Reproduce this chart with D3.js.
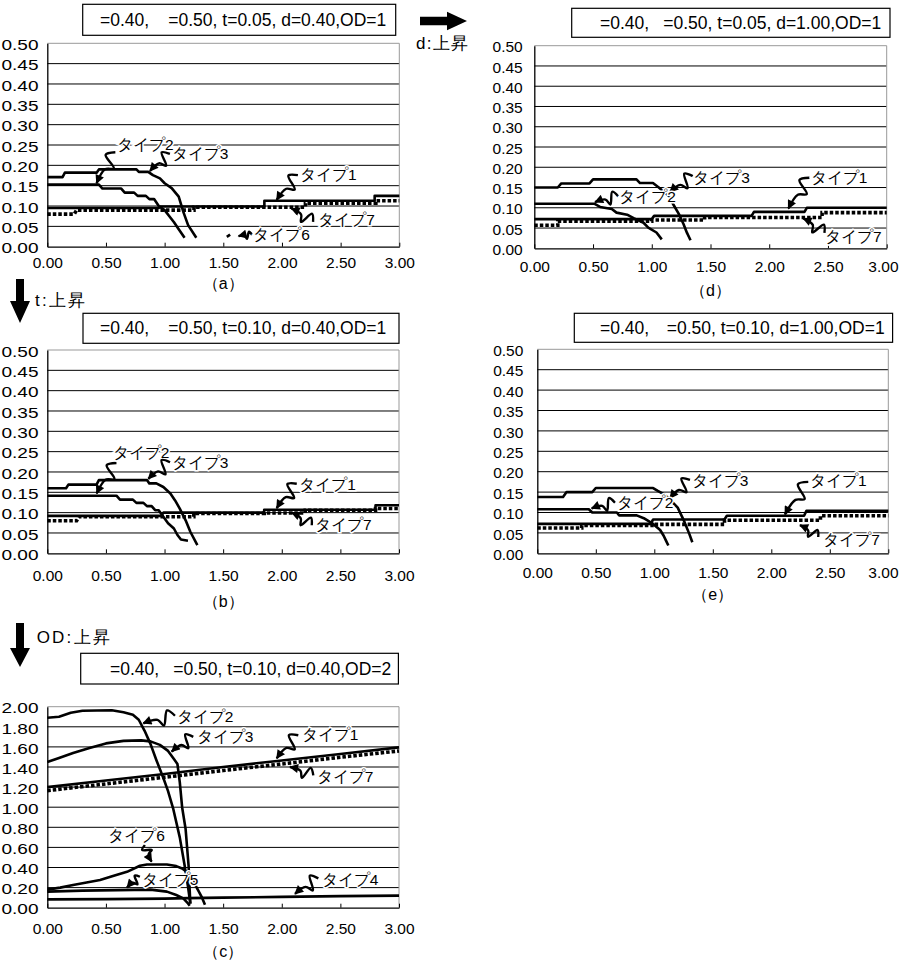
<!DOCTYPE html>
<html>
<head>
<meta charset="utf-8">
<script src="https://cdn.jsdelivr.net/npm/d3@7"></script>
<style>
  body { margin: 0; background: #fff; }
  svg { display: block; }
  text { font-family: "Liberation Sans", Arial, sans-serif; }
</style>
</head>
<body>
<svg id="chart" width="899" height="961"></svg>
<script>
// Five small step charts (a)-(e): share of each "タイプ" vs. x, with
// callout arrows pointing at each series.

const X_TICKS = [0, 0.5, 1, 1.5, 2, 2.5, 3];
const Y_TICKS_SMALL = [0, 0.05, 0.1, 0.15, 0.2, 0.25, 0.3, 0.35, 0.4, 0.45, 0.5];
const Y_TICKS_LARGE = [0, 0.2, 0.4, 0.6, 0.8, 1.0, 1.2, 1.4, 1.6, 1.8, 2.0];

const TITLE_HEAD = "=0.40,";
const TITLE_A = "=0.50, t=0.05, d=0.40,OD=1";
const TITLE_D = "=0.50, t=0.05, d=1.00,OD=1";
const TITLE_B = "=0.50, t=0.10, d=0.40,OD=1";
const TITLE_E = "=0.50, t=0.10, d=1.00,OD=1";
const TITLE_C = "=0.50, t=0.10, d=0.40,OD=2";

// (a) t=0.05, d=0.40
const A_TYPE1 = [[0,0.095],[0.95,0.095],[0.97,0.099],[1.85,0.099],[1.85,0.113],[2.79,0.113],[2.79,0.125],[3,0.125]];
const A_TYPE2 = [[0,0.1525],[0.44,0.1525],[0.47,0.143],[0.63,0.143],[0.66,0.133],[0.74,0.133],[0.77,0.125],[0.84,0.125],[0.87,0.117],[0.91,0.117],[0.95,0.1],[1.0,0.09],[1.04,0.075],[1.08,0.06],[1.12,0.043],[1.17,0.022]];
const A_TYPE3 = [[0,0.171],[0.13,0.171],[0.15,0.182],[0.42,0.182],[0.44,0.19],[0.76,0.19],[0.78,0.184],[0.86,0.184],[0.9,0.176],[0.96,0.168],[1.0,0.156],[1.06,0.144],[1.12,0.123],[1.16,0.085],[1.2,0.053],[1.27,0.022]];
const A_TYPE6 = [[1.53,0.024],[1.57,0.032]];
const A_TYPE7 = [[0,0.08],[0.23,0.08],[0.25,0.09],[1.25,0.09],[1.25,0.097],[2.2,0.097],[2.2,0.107],[2.8,0.107],[2.8,0.113],[3,0.113]];

// (d) t=0.05, d=1.00
const D_TYPE1 = [[0,0.072],[1.0,0.072],[1.02,0.08],[1.85,0.08],[1.87,0.09],[2.3,0.09],[2.32,0.1],[3,0.1]];
const D_TYPE2 = [[0,0.11],[0.51,0.11],[0.56,0.102],[0.66,0.097],[0.7,0.088],[0.79,0.083],[0.85,0.074],[0.93,0.063],[0.97,0.051],[1.04,0.039],[1.085,0.022]];
const D_TYPE3 = [[0,0.15],[0.2,0.15],[0.23,0.16],[0.47,0.16],[0.5,0.17],[0.87,0.17],[0.9,0.161],[1.01,0.161],[1.06,0.15],[1.12,0.135],[1.155,0.127],[1.18,0.11],[1.23,0.085],[1.27,0.06],[1.3,0.038],[1.33,0.02]];
const D_TYPE7 = [[0,0.057],[0.2,0.057],[0.2,0.067],[1.0,0.067],[1.0,0.07],[1.45,0.07],[1.45,0.076],[2.45,0.076],[2.45,0.088],[3,0.088]];

// (b) t=0.10, d=0.40
const B_TYPE1 = [[0,0.092],[0.97,0.092],[0.99,0.1],[1.85,0.1],[1.85,0.107],[2.8,0.107],[2.8,0.118],[3,0.118]];
const B_TYPE2 = [[0,0.1417],[0.59,0.1417],[0.62,0.132],[0.73,0.132],[0.76,0.124],[0.82,0.124],[0.85,0.116],[0.89,0.116],[0.92,0.106],[0.95,0.106],[0.99,0.09],[1.03,0.074],[1.08,0.061],[1.11,0.045],[1.14,0.034],[1.2,0.031]];
const B_TYPE3 = [[0,0.16],[0.16,0.16],[0.18,0.169],[0.42,0.169],[0.44,0.18],[0.85,0.18],[0.87,0.172],[0.93,0.172],[0.99,0.163],[1.05,0.147],[1.09,0.13],[1.13,0.11],[1.18,0.081],[1.22,0.053],[1.28,0.02]];
const B_TYPE7 = [[0,0.08],[0.25,0.08],[0.27,0.09],[1.25,0.09],[1.25,0.098],[1.85,0.098],[1.85,0.099],[2.2,0.099],[2.2,0.106],[2.8,0.106],[2.8,0.11],[3,0.11]];

// (e) t=0.10, d=1.00
const E_TYPE1 = [[0,0.072],[0.97,0.072],[0.99,0.083],[1.6,0.083],[1.62,0.092],[2.28,0.092],[2.3,0.104],[3,0.104]];
const E_TYPE2 = [[0,0.108],[0.44,0.108],[0.47,0.1],[0.68,0.1],[0.7,0.093],[0.85,0.093],[0.91,0.086],[0.99,0.072],[1.05,0.057],[1.08,0.043],[1.1,0.031],[1.12,0.019]];
const E_TYPE3 = [[0,0.138],[0.22,0.138],[0.25,0.15],[0.47,0.15],[0.5,0.16],[0.99,0.16],[1.03,0.153],[1.08,0.145],[1.13,0.133],[1.2,0.112],[1.25,0.082],[1.3,0.047],[1.325,0.027]];
const E_TYPE7 = [[0,0.062],[0.38,0.062],[0.38,0.068],[0.98,0.068],[0.98,0.071],[1.6,0.071],[1.6,0.081],[2.42,0.081],[2.42,0.092],[3,0.092]];

// (c) t=0.10, d=0.40, OD=2
const C_TYPE1 = [[0,1.2],[0.5,1.265],[1.0,1.33],[1.5,1.4],[2.0,1.465],[2.5,1.53],[3,1.595]];
const C_TYPE2 = [[0,1.89],[0.1,1.9],[0.2,1.94],[0.3,1.96],[0.55,1.965],[0.65,1.945],[0.73,1.92],[0.78,1.87],[0.83,1.76],[0.88,1.63],[0.93,1.47],[0.99,1.29],[1.03,1.16],[1.075,0.98],[1.13,0.7],[1.17,0.43],[1.2,0.21],[1.22,0.04]];
const C_TYPE3 = [[0,1.45],[0.1,1.49],[0.22,1.54],[0.36,1.59],[0.5,1.635],[0.65,1.66],[0.8,1.665],[0.88,1.655],[0.96,1.62],[1.03,1.56],[1.08,1.48],[1.11,1.43],[1.13,1.25],[1.15,1.0],[1.18,0.78],[1.205,0.42],[1.22,0.04]];
const C_TYPE4 = [[0,0.083],[0.5,0.085],[1.0,0.09],[1.2,0.095],[1.5,0.1],[2.0,0.108],[2.5,0.115],[3,0.12]];
const C_TYPE5 = [[0,0.16],[0.3,0.17],[0.6,0.175],[0.88,0.18],[1.02,0.16],[1.1,0.126],[1.16,0.093],[1.2,0.043],[1.215,0.02]];
const C_TYPE6 = [[0,0.18],[0.11,0.2],[0.22,0.225],[0.335,0.25],[0.45,0.275],[0.56,0.315],[0.68,0.357],[0.79,0.417],[0.85,0.43],[1.02,0.43],[1.1,0.414],[1.15,0.39],[1.22,0.33],[1.27,0.21],[1.32,0.1],[1.345,0.03]];
const C_TYPE7 = [[0,1.165],[0.5,1.232],[1.0,1.298],[1.5,1.365],[2.0,1.43],[2.5,1.497],[3,1.56]];

const svg = d3.select("#chart");

svg.append("defs").append("marker")
  .attr("id", "head")
  .attr("markerUnits", "userSpaceOnUse")
  .attr("viewBox", "0 0 10 10")
  .attr("markerWidth", 10).attr("markerHeight", 9)
  .attr("refX", 9).attr("refY", 5)
  .attr("orient", "auto")
  .append("path").attr("d", "M0,0 L10,5 L0,10 z").attr("fill", "#000");

// Panel layout (pixels) and which series / callouts belong to it.
const panels = [
  { cap: "a", left: 47.3, right: 399.3, top: 43.3, bottom: 246.7, yTicks: Y_TICKS_SMALL,
    yPad: 8.8, yLabW: 37, xLabY: 262, capY: 283, xEnd: null,
    box: [82.7, 4.3, 313, 31], t1: 100, t2: 168.3, title: TITLE_A,
    solid: [A_TYPE1, A_TYPE2, A_TYPE3], dotted: [A_TYPE7], dashed: [A_TYPE6],
    notes: [
      ["タイプ2", 0.594, 0.238, 0.58, 0.232, 0.42, 0.156],
      ["タイプ3", 1.06, 0.215, 1.045, 0.228, 0.875, 0.186],
      ["タイプ1", 2.154, 0.164, 2.136, 0.176, 1.955, 0.115],
      ["タイプ7", 2.31, 0.053, 2.265, 0.061, 2.08, 0.094],
      ["タイプ6", 1.756, 0.0165, 1.745, 0.029, 1.63, 0.026],
    ] },
  { cap: "d", left: 534.3, right: 886.7, top: 45.7, bottom: 248.3, yTicks: Y_TICKS_SMALL,
    yPad: 11.6, yLabW: null, xLabY: 266, capY: 290, xEnd: 898,
    box: [571.7, 8.3, 318.3, 29], t1: 600, t2: 663.3, title: TITLE_D,
    solid: [D_TYPE1, D_TYPE2, D_TYPE3], dotted: [D_TYPE7], dashed: [],
    notes: [
      ["タイプ3", 1.354, 0.161, 1.349, 0.178, 1.155, 0.139],
      ["タイプ2", 0.724, 0.115, 0.715, 0.128, 0.517, 0.114],
      ["タイプ1", 2.353, 0.16, 2.342, 0.174, 2.163, 0.098],
      ["タイプ7", 2.475, 0.016, 2.47, 0.038, 2.29, 0.074],
    ] },
  { cap: "b", left: 47.3, right: 399, top: 350, bottom: 553.3, yTicks: Y_TICKS_SMALL,
    yPad: 8.8, yLabW: 37, xLabY: 575, capY: 601, xEnd: null,
    box: [83, 313.3, 316, 30], t1: 100, t2: 168.3, title: TITLE_B,
    solid: [B_TYPE1, B_TYPE2, B_TYPE3], dotted: [B_TYPE7], dashed: [],
    notes: [
      ["タイプ2", 0.558, 0.234, 0.59, 0.222, 0.421, 0.147],
      ["タイプ3", 1.061, 0.211, 1.047, 0.224, 0.862, 0.183],
      ["タイプ1", 2.15, 0.156, 2.128, 0.171, 1.957, 0.111],
      ["タイプ7", 2.284, 0.058, 2.256, 0.069, 2.085, 0.1],
    ] },
  { cap: "e", left: 537.3, right: 888.3, top: 349.3, bottom: 553.3, yTicks: Y_TICKS_SMALL,
    yPad: 14, yLabW: null, xLabY: 572, capY: 594, xEnd: 898,
    box: [574.3, 313.3, 318.3, 29], t1: 600, t2: 666.7, title: TITLE_E,
    solid: [E_TYPE1, E_TYPE2, E_TYPE3], dotted: [E_TYPE7], dashed: [],
    notes: [
      ["タイプ3", 1.32, 0.166, 1.305, 0.18, 1.134, 0.135],
      ["タイプ2", 0.678, 0.11, 0.664, 0.124, 0.465, 0.11],
      ["タイプ1", 2.33, 0.166, 2.316, 0.175, 2.117, 0.095],
      ["タイプ7", 2.444, 0.02, 2.401, 0.04, 2.245, 0.069],
    ] },
  { cap: "c", left: 47.3, right: 399, top: 706.7, bottom: 907.7, yTicks: Y_TICKS_LARGE,
    yPad: 8.8, yLabW: 37, xLabY: 928, capY: 951, xEnd: null,
    box: [80.7, 653.3, 317.7, 30.7], t1: 110, t2: 173.3, title: TITLE_C,
    solid: [C_TYPE1, C_TYPE2, C_TYPE3, C_TYPE4, C_TYPE5, C_TYPE6], dotted: [C_TYPE7], dashed: [],
    notes: [
      ["タイプ2", 1.104, 1.851, 1.089, 1.91, 0.819, 1.835],
      ["タイプ3", 1.274, 1.646, 1.245, 1.7, 1.061, 1.552],
      ["タイプ1", 2.17, 1.669, 2.141, 1.716, 1.957, 1.486],
      ["タイプ7", 2.298, 1.254, 2.269, 1.317, 2.07, 1.4],
      ["タイプ6", 0.52, 0.664, 0.833, 0.624, 0.89, 0.458],
      ["タイプ5", 0.805, 0.226, 0.79, 0.308, 0.68, 0.2],
      ["タイプ4", 2.34, 0.226, 2.312, 0.292, 2.113, 0.137],
    ] },
];

// Excel-style "lightning" callout line between two pixel points.
function squiggle(s, e) {
  const dx = e[0] - s[0], dy = e[1] - s[1];
  const L = Math.hypot(dx, dy);
  const nx = -dy / L, ny = dx / L;
  const w = Math.min(7, L * 0.25);
  const at = (f, o) => [s[0] + dx * f + nx * o, s[1] + dy * f + ny * o];
  const pts = [s, at(0.2, w), at(0.4, -w), at(0.55, 0), e];
  return d3.line().curve(d3.curveCatmullRom)(pts);
}

function drawPanel(p) {
  const g = svg.append("g");
  const x = d3.scaleLinear().domain([0, 3]).range([p.left, p.right]);
  const yMax = p.yTicks[p.yTicks.length - 1];
  const y = d3.scaleLinear().domain([0, yMax]).range([p.bottom, p.top]);

  // title box
  g.append("rect")
    .attr("x", p.box[0]).attr("y", p.box[1])
    .attr("width", p.box[2]).attr("height", p.box[3])
    .attr("fill", "#fff").attr("stroke", "#000").attr("stroke-width", 1.2);
  const ty = p.box[1] + p.box[3] / 2 + 6;
  g.append("text").attr("x", p.t1).attr("y", ty).attr("font-size", 17.5).text(TITLE_HEAD);
  g.append("text").attr("x", p.t2).attr("y", ty).attr("font-size", 17.5).text(p.title);

  // horizontal gridlines + gray frame
  g.selectAll("line.grid").data(p.yTicks.slice(1)).join("line")
    .attr("x1", p.left).attr("x2", p.right)
    .attr("y1", d => y(d)).attr("y2", d => y(d))
    .attr("stroke", d => d === yMax ? "#999" : "#000").attr("stroke-width", 1);
  g.append("line")
    .attr("x1", p.right).attr("x2", p.right).attr("y1", p.top).attr("y2", p.bottom)
    .attr("stroke", "#999").attr("stroke-width", 1);

  // y axis
  const yAxis = d3.axisLeft(y).tickValues(p.yTicks).tickSize(0).tickSizeOuter(0)
    .tickPadding(p.yPad).tickFormat(d3.format(".2f"));
  const ya = g.append("g").attr("transform", `translate(${p.left},0)`).call(yAxis);
  ya.select(".domain").attr("stroke", "#000").attr("stroke-width", 1.3);
  ya.selectAll("text")
    .attr("font-size", 15.5).attr("font-family", "Liberation Sans, Arial, sans-serif")
    .attr("fill", "#000").attr("dy", "0.4em");
  if (p.yLabW) {
    ya.selectAll("text").attr("textLength", p.yLabW).attr("lengthAdjust", "spacingAndGlyphs");
  }

  // x axis, ticks point inward
  const xAxis = d3.axisBottom(x).tickValues(X_TICKS).tickSize(-4).tickSizeOuter(0)
    .tickFormat(d3.format(".2f"));
  const xa = g.append("g").attr("transform", `translate(0,${p.bottom})`).call(xAxis);
  xa.select(".domain").attr("stroke", "#000").attr("stroke-width", 1.3);
  xa.selectAll(".tick line").attr("stroke", "#000");
  xa.selectAll("text")
    .attr("font-size", 15.5).attr("font-family", "Liberation Sans, Arial, sans-serif")
    .attr("fill", "#000").attr("y", p.xLabY - p.bottom).attr("dy", "0.36em");
  if (p.xEnd) {
    // keep the last label inside the picture, right-aligned to the edge
    xa.selectAll(".tick").filter(d => d === 3).select("text")
      .attr("text-anchor", "end").attr("x", p.xEnd - p.right);
  }

  g.append("text")
    .attr("x", (p.left + p.right) / 2).attr("y", p.capY).attr("dy", "0.36em")
    .attr("text-anchor", "middle").attr("font-size", 16)
    .attr("font-family", "Noto Sans CJK JP, sans-serif")
    .text(`（${p.cap}）`);

  const line = d3.line().x(d => x(d[0])).y(d => y(d[1]));

  g.selectAll("path.dot").data(p.dotted).join("path")
    .attr("d", line).attr("fill", "none").attr("stroke", "#000")
    .attr("stroke-width", 3.6).attr("stroke-dasharray", "3.5,2");
  g.selectAll("path.dash").data(p.dashed).join("path")
    .attr("d", line).attr("fill", "none").attr("stroke", "#000")
    .attr("stroke-width", 2.6).attr("stroke-dasharray", "4,3");
  g.selectAll("path.solid").data(p.solid).join("path")
    .attr("d", line).attr("fill", "none").attr("stroke", "#000")
    .attr("stroke-width", 2.6).attr("stroke-linejoin", "round");

  // callouts
  p.notes.forEach(([label, tx, tyv, sx, sy, ex, ey]) => {
    g.append("path")
      .attr("d", squiggle([x(sx), y(sy)], [x(ex), y(ey)]))
      .attr("fill", "none").attr("stroke", "#000").attr("stroke-width", 2.4)
      .attr("marker-end", "url(#head)");
    g.append("text")
      .attr("x", x(tx)).attr("y", y(tyv))
      .attr("font-size", 15.5)
      .attr("font-family", "Liberation Sans, Noto Sans CJK JP, sans-serif")
      .attr("stroke", "#fff").attr("stroke-width", 3).attr("paint-order", "stroke")
      .attr("fill", "#000")
      .text(label);
  });
}

panels.forEach(drawPanel);

// Big direction arrows between panels
const arrows = [
  "M420,16.7 L447,16.7 L447,11.7 L467,21 L447,30.3 L447,25.3 L420,25.3 Z",
  "M16,279 L24,279 L24,301 L30,301 L20,323 L10,301 L16,301 Z",
  "M16,623 L24,623 L24,648 L30,648 L20,667 L10,648 L16,648 Z",
];
svg.selectAll("path.big").data(arrows).join("path").attr("d", d => d).attr("fill", "#000");

const arrowLabels = [
  ["d:上昇", 416, 49, 52],
  ["t:上昇", 35, 306, 50],
  ["OD:上昇", 36.7, 643, 73],
];
svg.selectAll("text.arrowlab").data(arrowLabels).join("text")
  .attr("x", d => d[1]).attr("y", d => d[2])
  .attr("font-size", 17)
  .attr("font-family", "Liberation Sans, Noto Sans CJK JP, sans-serif")
  .attr("textLength", d => d[3]).attr("lengthAdjust", "spacing")
  .text(d => d[0]);
</script>
</body>
</html>
